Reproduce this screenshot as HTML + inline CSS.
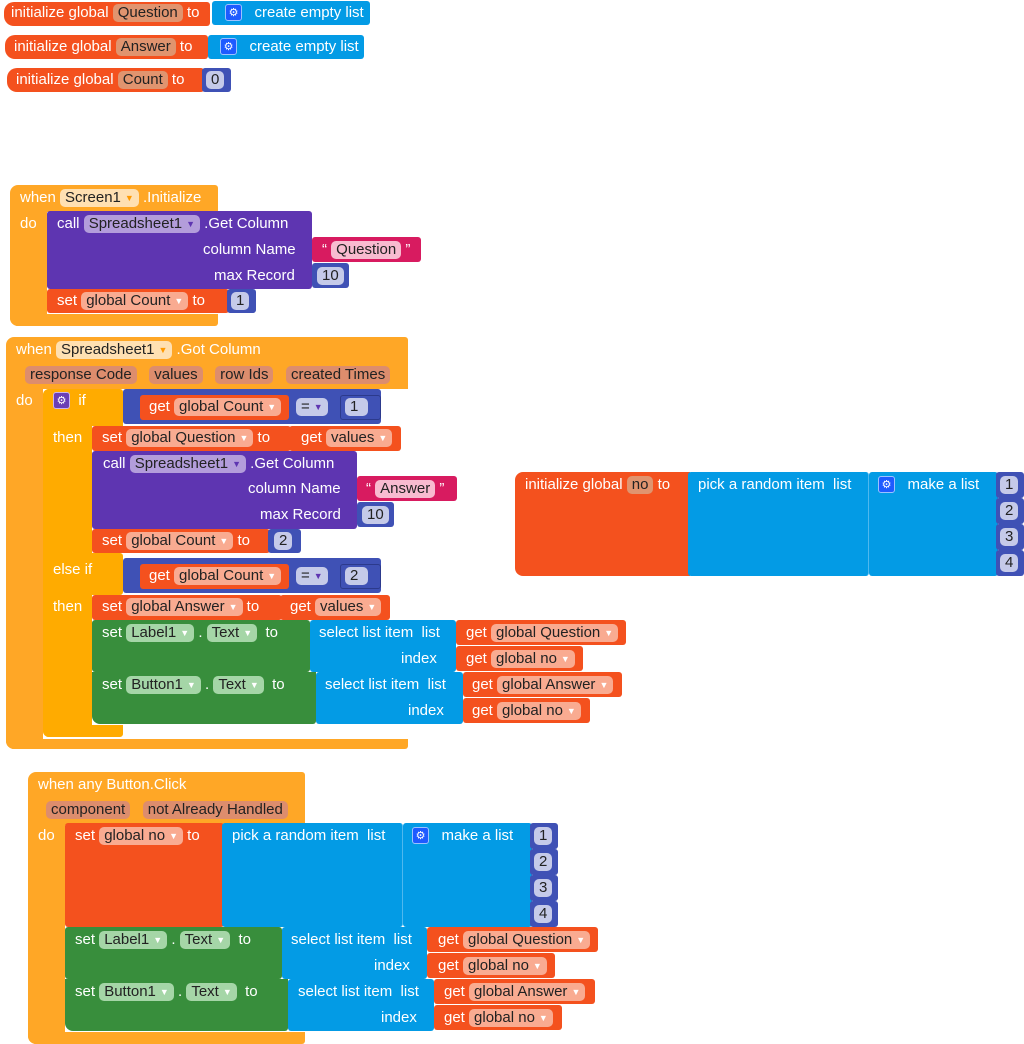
<!DOCTYPE html>
<html><head><meta charset="utf-8"><style>
body{margin:0;width:1024px;height:1044px;background:#fff;position:relative;overflow:hidden;font-family:"Liberation Sans",Arial,sans-serif}
.b{position:absolute;box-sizing:border-box;border-radius:3px}
.O{background:#f4511e}.B{background:#039be5}.M{background:#3f51b5}.P{background:#5e35b1}.K{background:#d81b60}.G{background:#388e3c}.E{background:#ffa726}.Y{background:#ffab00}
.r{position:absolute;color:#fff;font-size:15px;line-height:18px;white-space:nowrap}
.p{display:inline-block;height:18px;line-height:18px;border-radius:5px;padding:0 5px;color:#222;vertical-align:top}
.po{background:#e0946f}.ps{background:#f9ab91}.pe{background:#ffe0b2}.pp{background:#b39ddb}.pn{background:#c5cae9}.pg{background:#a5d6a7}.pk{background:#f8bbd0}.pa{background:#dd8d6d}
.a{font-size:9px;color:#fff;margin-left:4px;vertical-align:top}
.pp .a,.pn .a{color:#5e35b1}
.g{display:inline-block;width:17px;height:17px;border-radius:3px;background:#1e5bff;color:#fff;font-size:11px;line-height:16px;text-align:center;vertical-align:top;border:1px solid #9cc2ff;box-sizing:border-box}
.gy{background:#6a3fb5;border-color:#c9b4f0}
</style></head><body>

<div class="b O" style="left:4px;top:2px;width:206px;height:24px;border-radius:10px 3px 3px 10px"></div>
<div class="b B" style="left:212px;top:1px;width:158px;height:24px"></div>
<div class="r" style="left:11px;top:4px">initialize global <span class="p po">Question</span> to</div>
<div class="r" style="left:225px;top:4px"><span class="g">⚙</span>&nbsp;&nbsp; create empty list</div>

<div class="b O" style="left:5px;top:35px;width:203px;height:24px;border-radius:10px 3px 3px 10px"></div>
<div class="b B" style="left:208px;top:35px;width:156px;height:24px"></div>
<div class="r" style="left:14px;top:38px">initialize global <span class="p po">Answer</span> to</div>
<div class="r" style="left:220px;top:38px"><span class="g">⚙</span>&nbsp;&nbsp; create empty list</div>

<div class="b O" style="left:7px;top:68px;width:197px;height:24px;border-radius:10px 3px 3px 10px"></div>
<div class="b M" style="left:202px;top:68px;width:29px;height:24px"></div>
<div class="r" style="left:16px;top:71px">initialize global <span class="p po">Count</span> to</div>
<div class="r" style="left:206px;top:71px"><span class="p pn">0</span></div>

<div class="b E" style="left:10px;top:185px;width:208px;height:27px;border-radius:8px 3px 0 0"></div>
<div class="b E" style="left:10px;top:205px;width:37px;height:121px;border-radius:0 0 0 8px"></div>
<div class="b E" style="left:10px;top:314px;width:208px;height:12px;border-radius:0 0 3px 8px"></div>
<div class="r" style="left:20px;top:189px">when <span class="p pe">Screen1<span class="a" style="color:#f90">▼</span></span> .Initialize</div>
<div class="r" style="left:20px;top:215px">do</div>
<div class="b P" style="left:47px;top:211px;width:265px;height:78px"></div>
<div class="r" style="left:57px;top:215px">call <span class="p pp">Spreadsheet1<span class="a">▼</span></span> .Get Column</div>
<div class="r" style="left:203px;top:241px">column Name</div>
<div class="r" style="left:214px;top:267px">max Record</div>
<div class="b K" style="left:312px;top:237px;width:109px;height:25px"></div>
<div class="r" style="left:322px;top:241px">“ <span class="p pk">Question</span> ”</div>
<div class="b M" style="left:312px;top:263px;width:37px;height:25px"></div>
<div class="r" style="left:317px;top:267px"><span class="p pn">10</span></div>
<div class="b O" style="left:47px;top:289px;width:182px;height:24px"></div>
<div class="r" style="left:57px;top:292px">set <span class="p ps">global Count<span class="a">▼</span></span> to</div>
<div class="b M" style="left:227px;top:289px;width:29px;height:24px"></div>
<div class="r" style="left:231px;top:292px"><span class="p pn">1</span></div>

<div class="b E" style="left:6px;top:337px;width:402px;height:52px;border-radius:8px 3px 0 0"></div>
<div class="b E" style="left:6px;top:380px;width:37px;height:369px;border-radius:0 0 0 8px"></div>
<div class="b E" style="left:6px;top:739px;width:402px;height:10px;border-radius:0 0 3px 8px"></div>
<div class="r" style="left:16px;top:341px">when <span class="p pe">Spreadsheet1<span class="a" style="color:#f90">▼</span></span> .Got Column</div>
<div class="r" style="left:25px;top:366px"><span class="p pa">response Code</span>&nbsp;&nbsp; <span class="p pa">values</span>&nbsp;&nbsp; <span class="p pa">row Ids</span>&nbsp;&nbsp; <span class="p pa">created Times</span></div>
<div class="r" style="left:16px;top:392px">do</div>

<div class="b Y" style="left:43px;top:389px;width:80px;height:37px;border-radius:6px 3px 0 0"></div>
<div class="b Y" style="left:43px;top:389px;width:49px;height:348px;border-radius:6px 0 0 6px"></div>
<div class="b Y" style="left:43px;top:553px;width:80px;height:42px"></div>
<div class="b Y" style="left:43px;top:725px;width:80px;height:12px;border-radius:0 0 3px 6px"></div>
<div class="r" style="left:53px;top:392px"><span class="g gy">⚙</span>&nbsp;&nbsp;if</div>
<div class="r" style="left:53px;top:429px">then</div>
<div class="r" style="left:53px;top:561px">else if</div>
<div class="r" style="left:53px;top:598px">then</div>

<div class="b M" style="left:123px;top:389px;width:258px;height:35px"></div>
<div class="b O" style="left:140px;top:395px;width:149px;height:25px"></div>
<div class="b M" style="left:340px;top:395px;width:41px;height:25px;border:1px solid #2c3a8c"></div>
<div class="r" style="left:149px;top:398px">get <span class="p ps">global Count<span class="a">▼</span></span></div>
<div class="r" style="left:296px;top:398px"><span class="p pn">=<span class="a">▼</span></span></div>
<div class="r" style="left:345px;top:398px"><span class="p pn">1&nbsp;</span></div>

<div class="b O" style="left:92px;top:426px;width:199px;height:25px"></div>
<div class="r" style="left:102px;top:429px">set <span class="p ps">global Question<span class="a">▼</span></span> to</div>
<div class="b O" style="left:289px;top:426px;width:112px;height:25px"></div>
<div class="r" style="left:301px;top:429px">get <span class="p ps">values<span class="a">▼</span></span></div>

<div class="b P" style="left:92px;top:451px;width:265px;height:78px"></div>
<div class="r" style="left:103px;top:455px">call <span class="p pp">Spreadsheet1<span class="a">▼</span></span> .Get Column</div>
<div class="r" style="left:248px;top:480px">column Name</div>
<div class="r" style="left:260px;top:506px">max Record</div>
<div class="b K" style="left:357px;top:476px;width:100px;height:25px"></div>
<div class="r" style="left:366px;top:480px">“ <span class="p pk">Answer</span> ”</div>
<div class="b M" style="left:357px;top:502px;width:37px;height:25px"></div>
<div class="r" style="left:362px;top:506px"><span class="p pn">10</span></div>

<div class="b O" style="left:92px;top:529px;width:178px;height:24px"></div>
<div class="r" style="left:102px;top:532px">set <span class="p ps">global Count<span class="a">▼</span></span> to</div>
<div class="b M" style="left:268px;top:529px;width:33px;height:24px"></div>
<div class="r" style="left:274px;top:532px"><span class="p pn">2</span></div>

<div class="b M" style="left:123px;top:558px;width:258px;height:35px"></div>
<div class="b O" style="left:140px;top:564px;width:149px;height:25px"></div>
<div class="b M" style="left:340px;top:564px;width:41px;height:25px;border:1px solid #2c3a8c"></div>
<div class="r" style="left:149px;top:567px">get <span class="p ps">global Count<span class="a">▼</span></span></div>
<div class="r" style="left:296px;top:567px"><span class="p pn">=<span class="a">▼</span></span></div>
<div class="r" style="left:345px;top:567px"><span class="p pn">2&nbsp;</span></div>

<div class="b O" style="left:92px;top:595px;width:190px;height:25px"></div>
<div class="r" style="left:102px;top:598px">set <span class="p ps">global Answer<span class="a">▼</span></span> to</div>
<div class="b O" style="left:280px;top:595px;width:110px;height:25px"></div>
<div class="r" style="left:290px;top:598px">get <span class="p ps">values<span class="a">▼</span></span></div>

<div class="b G" style="left:92px;top:620px;width:218px;height:52px"></div>
<div class="r" style="left:102px;top:624px">set <span class="p pg">Label1<span class="a">▼</span></span> . <span class="p pg">Text<span class="a">▼</span></span>&nbsp; to</div>
<div class="b B" style="left:310px;top:620px;width:146px;height:52px"></div>
<div class="r" style="left:319px;top:624px">select list item&nbsp; list</div>
<div class="r" style="left:401px;top:650px">index</div>
<div class="b O" style="left:456px;top:620px;width:170px;height:25px"></div>
<div class="r" style="left:466px;top:624px">get <span class="p ps">global Question<span class="a">▼</span></span></div>
<div class="b O" style="left:456px;top:646px;width:127px;height:25px"></div>
<div class="r" style="left:466px;top:650px">get <span class="p ps">global no<span class="a">▼</span></span></div>

<div class="b G" style="left:92px;top:672px;width:224px;height:52px;border-radius:0 0 3px 8px"></div>
<div class="r" style="left:102px;top:676px">set <span class="p pg">Button1<span class="a">▼</span></span> . <span class="p pg">Text<span class="a">▼</span></span>&nbsp; to</div>
<div class="b B" style="left:316px;top:672px;width:147px;height:52px"></div>
<div class="r" style="left:325px;top:676px">select list item&nbsp; list</div>
<div class="r" style="left:408px;top:702px">index</div>
<div class="b O" style="left:463px;top:672px;width:159px;height:25px"></div>
<div class="r" style="left:472px;top:676px">get <span class="p ps">global Answer<span class="a">▼</span></span></div>
<div class="b O" style="left:463px;top:698px;width:127px;height:25px"></div>
<div class="r" style="left:472px;top:702px">get <span class="p ps">global no<span class="a">▼</span></span></div>

<div class="b O" style="left:515px;top:472px;width:175px;height:104px;border-radius:8px 0 0 8px"></div>
<div class="r" style="left:525px;top:476px">initialize global <span class="p po">no</span> to</div>
<div class="b B" style="left:688px;top:472px;width:181px;height:104px;border-right:1px solid #4fb8ee"></div>
<div class="r" style="left:698px;top:476px">pick a random item&nbsp; list</div>
<div class="b B" style="left:869px;top:472px;width:129px;height:104px"></div>
<div class="r" style="left:878px;top:476px"><span class="g">⚙</span>&nbsp;&nbsp; make a list</div>
<div class="b M" style="left:996px;top:472px;width:28px;height:26px"></div>
<div class="b M" style="left:996px;top:498px;width:28px;height:26px"></div>
<div class="b M" style="left:996px;top:524px;width:28px;height:26px"></div>
<div class="b M" style="left:996px;top:550px;width:28px;height:26px"></div>
<div class="r" style="left:1000px;top:476px"><span class="p pn">1</span></div>
<div class="r" style="left:1000px;top:502px"><span class="p pn">2</span></div>
<div class="r" style="left:1000px;top:528px"><span class="p pn">3</span></div>
<div class="r" style="left:1000px;top:554px"><span class="p pn">4</span></div>

<div class="b E" style="left:28px;top:772px;width:277px;height:53px;border-radius:8px 3px 0 0"></div>
<div class="b E" style="left:28px;top:815px;width:37px;height:229px;border-radius:0 0 0 8px"></div>
<div class="b E" style="left:28px;top:1032px;width:277px;height:12px;border-radius:0 0 3px 8px"></div>
<div class="r" style="left:38px;top:776px">when any Button.Click</div>
<div class="r" style="left:46px;top:801px"><span class="p pa">component</span>&nbsp;&nbsp; <span class="p pa">not Already Handled</span></div>
<div class="r" style="left:38px;top:827px">do</div>

<div class="b O" style="left:65px;top:823px;width:159px;height:104px"></div>
<div class="r" style="left:75px;top:827px">set <span class="p ps">global no<span class="a">▼</span></span> to</div>
<div class="b B" style="left:222px;top:823px;width:181px;height:104px;border-right:1px solid #4fb8ee"></div>
<div class="r" style="left:232px;top:827px">pick a random item&nbsp; list</div>
<div class="b B" style="left:403px;top:823px;width:129px;height:104px"></div>
<div class="r" style="left:412px;top:827px"><span class="g">⚙</span>&nbsp;&nbsp; make a list</div>
<div class="b M" style="left:530px;top:823px;width:28px;height:26px"></div>
<div class="b M" style="left:530px;top:849px;width:28px;height:26px"></div>
<div class="b M" style="left:530px;top:875px;width:28px;height:26px"></div>
<div class="b M" style="left:530px;top:901px;width:28px;height:26px"></div>
<div class="r" style="left:534px;top:827px"><span class="p pn">1</span></div>
<div class="r" style="left:534px;top:853px"><span class="p pn">2</span></div>
<div class="r" style="left:534px;top:879px"><span class="p pn">3</span></div>
<div class="r" style="left:534px;top:905px"><span class="p pn">4</span></div>

<div class="b G" style="left:65px;top:927px;width:217px;height:52px"></div>
<div class="r" style="left:75px;top:931px">set <span class="p pg">Label1<span class="a">▼</span></span> . <span class="p pg">Text<span class="a">▼</span></span>&nbsp; to</div>
<div class="b B" style="left:282px;top:927px;width:145px;height:52px"></div>
<div class="r" style="left:291px;top:931px">select list item&nbsp; list</div>
<div class="r" style="left:374px;top:957px">index</div>
<div class="b O" style="left:427px;top:927px;width:171px;height:25px"></div>
<div class="r" style="left:438px;top:931px">get <span class="p ps">global Question<span class="a">▼</span></span></div>
<div class="b O" style="left:427px;top:953px;width:128px;height:25px"></div>
<div class="r" style="left:438px;top:957px">get <span class="p ps">global no<span class="a">▼</span></span></div>

<div class="b G" style="left:65px;top:979px;width:223px;height:52px;border-radius:0 0 3px 8px"></div>
<div class="r" style="left:75px;top:983px">set <span class="p pg">Button1<span class="a">▼</span></span> . <span class="p pg">Text<span class="a">▼</span></span>&nbsp; to</div>
<div class="b B" style="left:288px;top:979px;width:146px;height:52px"></div>
<div class="r" style="left:298px;top:983px">select list item&nbsp; list</div>
<div class="r" style="left:381px;top:1009px">index</div>
<div class="b O" style="left:434px;top:979px;width:161px;height:25px"></div>
<div class="r" style="left:444px;top:983px">get <span class="p ps">global Answer<span class="a">▼</span></span></div>
<div class="b O" style="left:434px;top:1005px;width:128px;height:25px"></div>
<div class="r" style="left:444px;top:1009px">get <span class="p ps">global no<span class="a">▼</span></span></div>

</body></html>
